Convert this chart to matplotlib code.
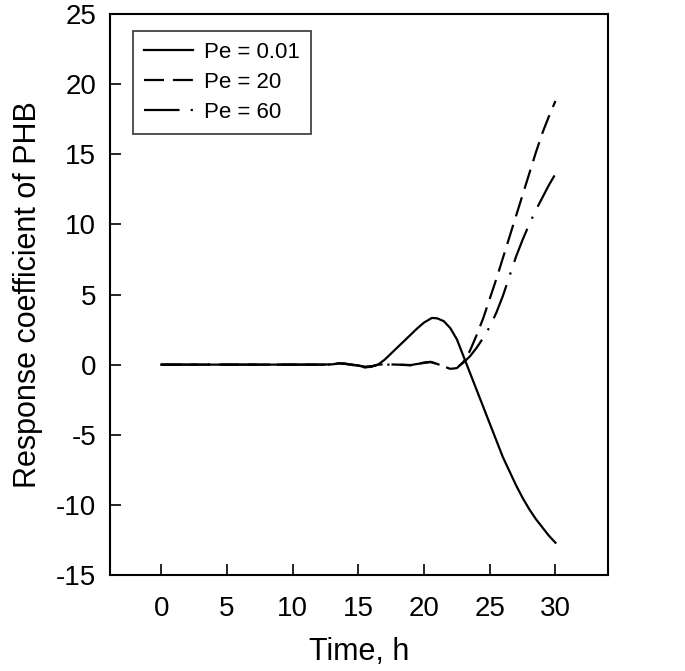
import matplotlib
matplotlib.use("Agg")
import matplotlib.pyplot as plt

plt.rcParams["font.family"] = ["Liberation Sans", "DejaVu Sans"]
plt.rcParams["axes.unicode_minus"] = False

# Pe = 0.01
t_a = [0, 5, 10, 12, 13, 13.5, 14, 15, 15.5, 16, 16.5, 17, 17.5, 18, 18.5, 19,
       19.5, 20, 20.6, 21, 21.5, 22, 22.5, 23, 23.5, 24, 24.5, 25, 25.5, 26,
       26.5, 27, 27.5, 28, 28.5, 29, 29.5, 30]
y_a = [0, 0, 0, 0, 0.02, 0.08, 0.05, -0.08, -0.15, -0.12, 0, 0.35, 0.8, 1.25,
       1.7, 2.15, 2.6, 3.0, 3.33, 3.3, 3.1, 2.6, 1.8, 0.6, -0.6, -1.8, -3.0,
       -4.2, -5.4, -6.6, -7.6, -8.6, -9.5, -10.3, -11.0, -11.6, -12.2, -12.7]

# Pe = 20
t_b = [0, 5, 10, 13, 13.5, 14, 15, 15.5, 16, 16.5, 17, 18, 19, 19.5, 20, 20.5,
       21, 21.5, 22, 22.5, 23, 23.5, 24, 24.5, 25, 25.5, 26, 26.5, 27, 27.5,
       28, 28.5, 29, 29.5, 30]
y_b = [0, 0, 0, 0, 0.1, 0.08, -0.1, -0.2, -0.15, 0, 0.02, 0, -0.05, 0.05, 0.15,
       0.2, 0.05, -0.15, -0.3, -0.25, 0.2, 1.0, 2.1, 3.3, 4.7, 6.1, 7.6, 9.1,
       10.6, 12.1, 13.6, 15.1, 16.5, 17.7, 18.8]

# Pe = 60
t_c = [0, 5, 10, 13, 13.5, 14, 15, 15.5, 16, 16.5, 17, 18, 19, 19.5, 20, 20.5,
       21, 21.5, 22, 22.5, 23, 23.5, 24, 24.5, 25, 25.5, 26, 26.5, 27, 27.5,
       28, 28.5, 29, 29.5, 30]
y_c = [0, 0, 0, 0, 0.08, 0.05, -0.05, -0.18, -0.12, -0.02, 0, 0, -0.03, 0.05,
       0.12, 0.18, 0.05, -0.15, -0.28, -0.22, 0.15, 0.6, 1.2, 1.9, 2.7, 3.7,
       4.9, 6.3, 7.7, 8.9, 10.0, 11.0, 11.9, 12.8, 13.6]

x_ticks = [0, 5, 10, 15, 20, 25, 30]
y_ticks = [-15, -10, -5, 0, 5, 10, 15, 20, 25]

fig = plt.figure(figsize=(6.85, 6.71), dpi=100)
ax = fig.add_axes([0.1606, 0.1431, 0.727, 0.836])

ax.plot(t_a, y_a, color="black", linewidth=1.6, label="Pe = 0.01")
ax.plot(t_b, y_b, color="black", linewidth=1.6, dashes=(9, 4),
        label="Pe = 20")
ax.plot(t_c, y_c, color="black", linewidth=1.6, dashes=(16, 5, 1, 5),
        label="Pe = 60")

ax.set_xlim(-3.9, 34)
ax.set_ylim(-15, 25)
ax.set_xticks(x_ticks)
ax.set_yticks(y_ticks)
ax.tick_params(direction="in", length=8, width=1.2, labelsize=20)
ax.tick_params(axis="x", pad=15)
ax.tick_params(axis="y", pad=10)

for spine in ax.spines.values():
    spine.set_linewidth(1.5)

ax.set_xlabel("Time, h", fontsize=22, labelpad=11)
ax.set_ylabel("Response coefficient of PHB", fontsize=22, labelpad=9)

leg = ax.legend(loc="upper left", bbox_to_anchor=(0.046, 0.97),
                borderaxespad=0, fontsize=16, frameon=True, fancybox=False,
                handlelength=2.2, handletextpad=0.5, borderpad=0.5,
                labelspacing=0.4)
leg.get_frame().set_edgecolor("black")
leg.get_frame().set_linewidth(1.2)

fig.savefig("out.png", dpi=100)
